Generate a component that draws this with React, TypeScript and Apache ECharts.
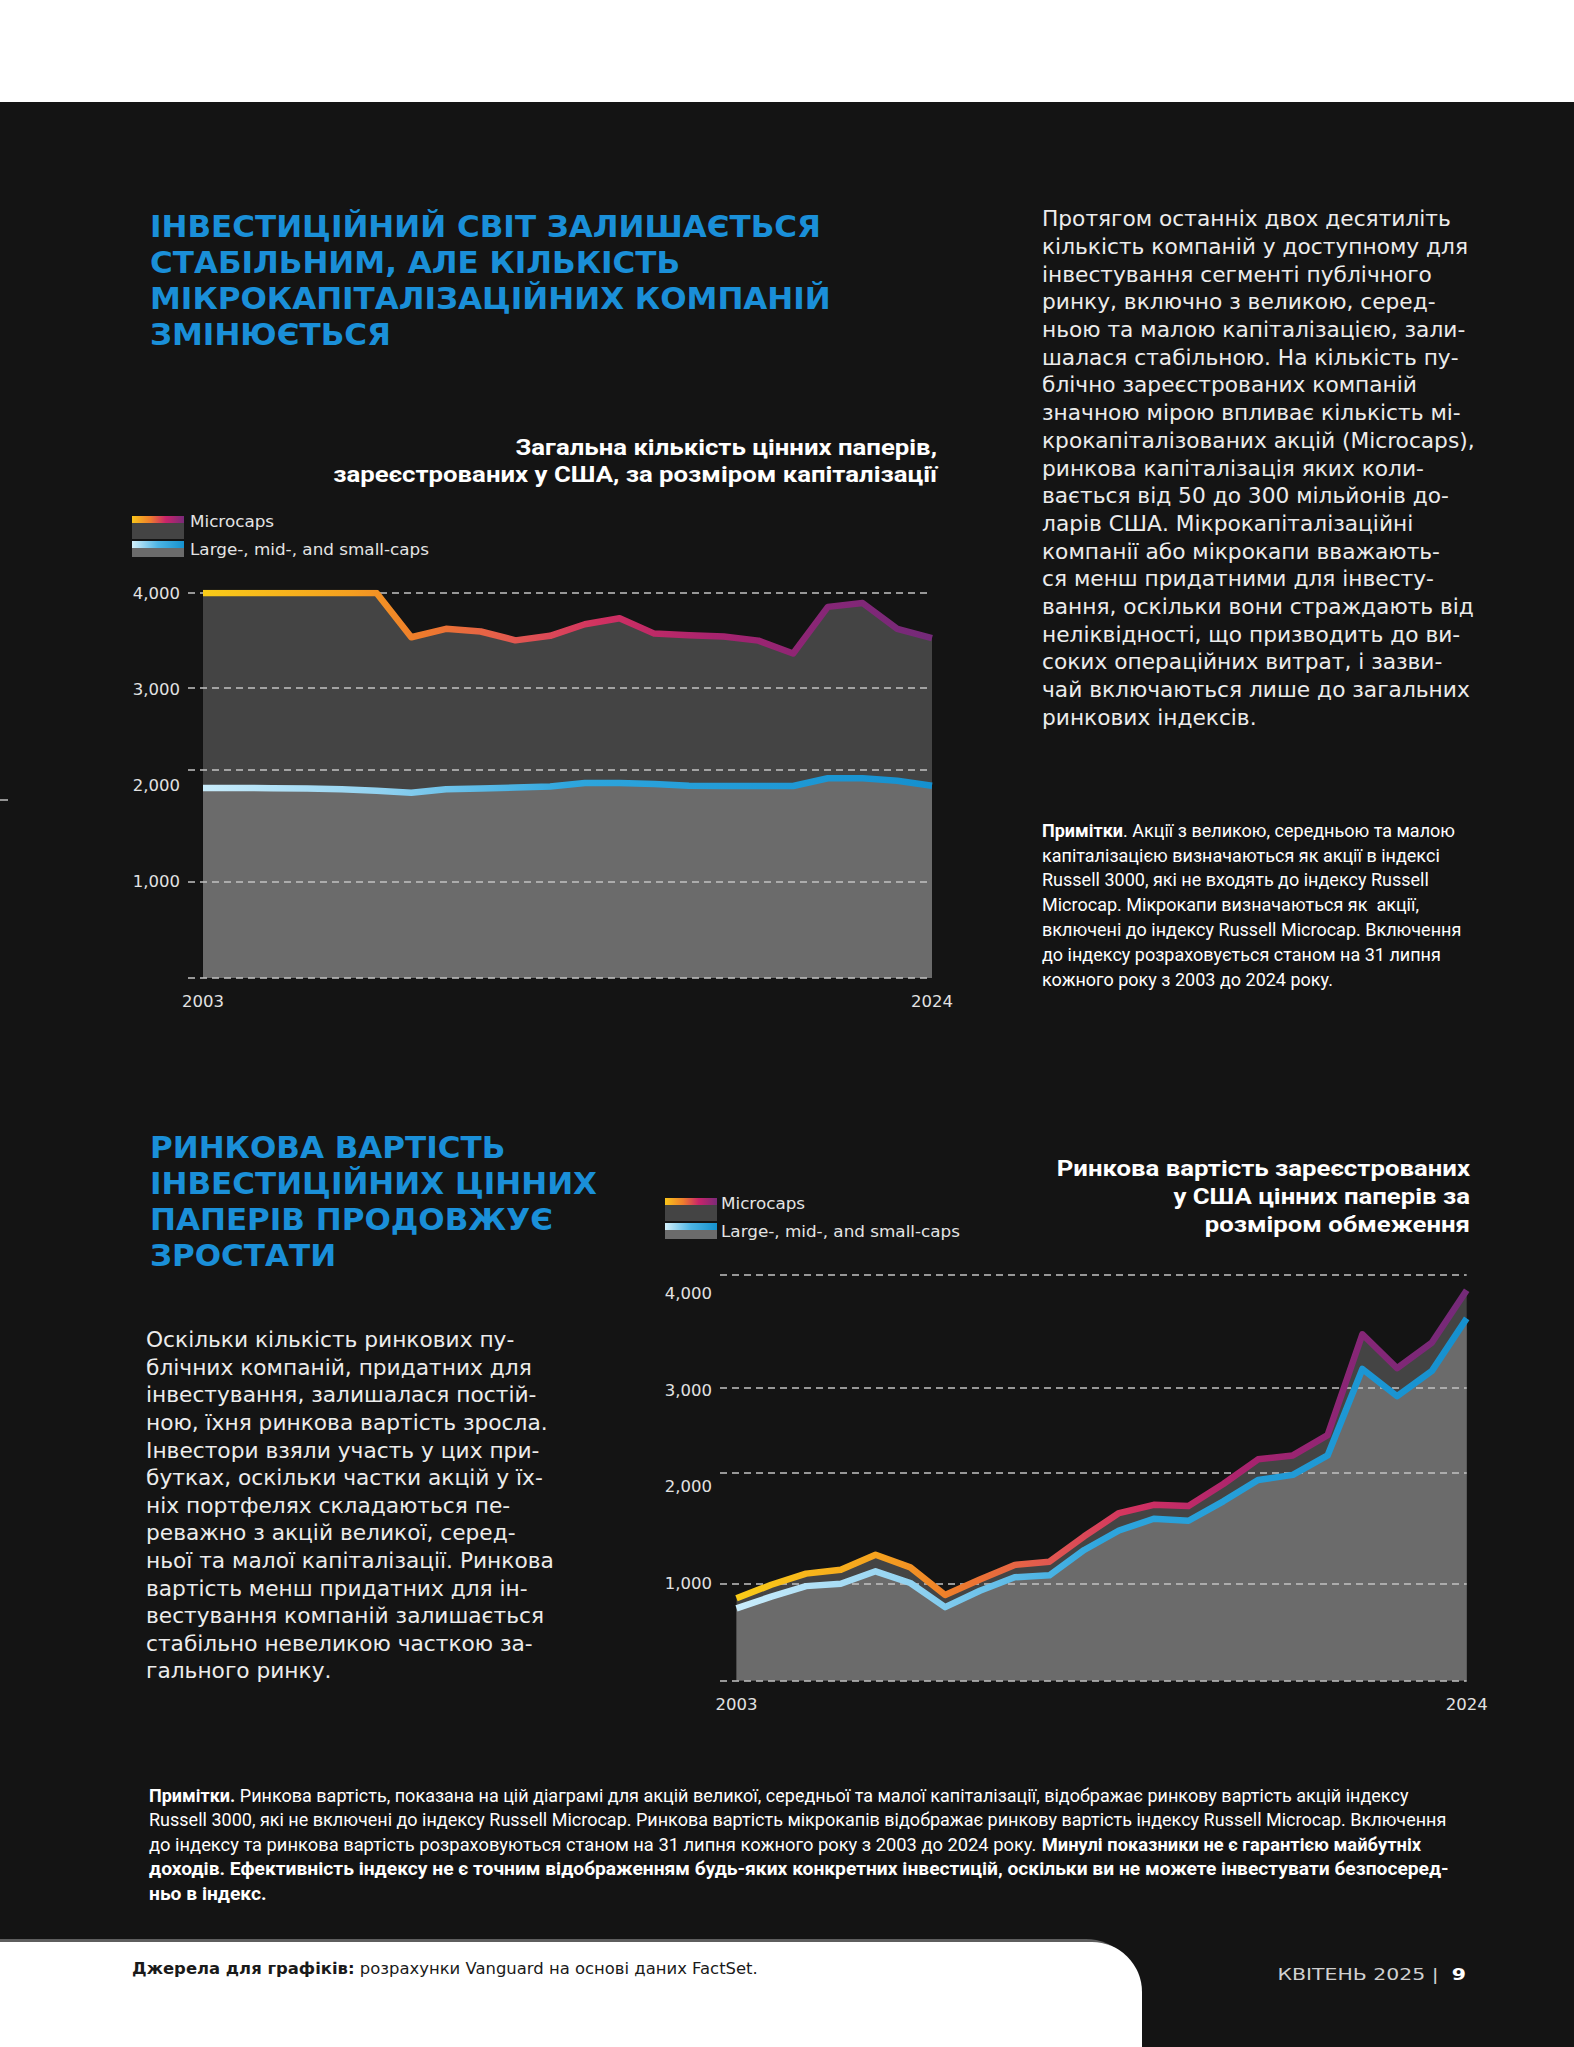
import React, { useEffect, useRef } from "react";
import * as echarts from "echarts";

// ---------- DATA ----------
const years = [2003, 2004, 2005, 2006, 2007, 2008, 2009, 2010, 2011, 2012, 2013, 2014, 2015, 2016, 2017, 2018, 2019, 2020, 2021, 2022, 2023, 2024];

// Chart 1: number of securities (large/mid/small caps and all incl. microcaps, as stacked)
const countLarge = [1975, 1975, 1972, 1968, 1960, 1945, 1925, 1962, 1970, 1978, 1990, 2025, 2025, 2015, 1998, 1995, 1995, 1995, 2075, 2075, 2050, 1998];
const countAll = [4000, 4000, 4000, 4000, 4000, 4000, 3540, 3628, 3600, 3508, 3555, 3675, 3738, 3578, 3562, 3548, 3505, 3372, 3856, 3896, 3628, 3530];
const countGridLines = [0, 1000, 2160, 3020, 4000];
const countTicks = [1000, 2000, 3000, 4000];

// Chart 2: market value (large/mid/small caps and all incl. microcaps, as stacked)
const valueLarge = [747, 867, 976, 1000, 1129, 1008, 759, 928, 1068, 1088, 1349, 1550, 1671, 1651, 1851, 2072, 2124, 2325, 3217, 2936, 3197, 3739];
const valueAll = [850, 990, 1105, 1145, 1300, 1170, 885, 1045, 1195, 1228, 1490, 1730, 1815, 1803, 2030, 2285, 2325, 2534, 3575, 3225, 3490, 4030];
const valueGridLines = [0, 1000, 2145, 3020, 4190];
const valueTicks = [1000, 2000, 3000, 4000];

const xTickLabels = [2003, 2024];
const legendNames = ["Microcaps", "Large-, mid-, and small-caps"];

// ---------- TEXT ----------
const title1 = ["ІНВЕСТИЦІЙНИЙ СВІТ ЗАЛИШАЄТЬСЯ", "СТАБІЛЬНИМ, АЛЕ КІЛЬКІСТЬ", "МІКРОКАПІТАЛІЗАЦІЙНИХ КОМПАНІЙ", "ЗМІНЮЄТЬСЯ"];
const title2 = ["РИНКОВА ВАРТІСТЬ", "ІНВЕСТИЦІЙНИХ ЦІННИХ", "ПАПЕРІВ ПРОДОВЖУЄ", "ЗРОСТАТИ"];
const chartTitle1 = ["Загальна кількість цінних паперів,", "зареєстрованих у США, за розміром капіталізації"];
const chartTitle2 = ["Ринкова вартість зареєстрованих", "у США цінних паперів за", "розміром обмеження"];
const para1 = [
  "Протягом останніх двох десятиліть",
  "кількість компаній у доступному для",
  "інвестування сегменті публічного",
  "ринку, включно з великою, серед-",
  "ньою та малою капіталізацією, зали-",
  "шалася стабільною. На кількість пу-",
  "блічно зареєстрованих компаній",
  "значною мірою впливає кількість мі-",
  "крокапіталізованих акцій (Microcaps),",
  "ринкова капіталізація яких коли-",
  "вається від 50 до 300 мільйонів до-",
  "ларів США. Мікрокапіталізаційні",
  "компанії або мікрокапи вважають-",
  "ся менш придатними для інвесту-",
  "вання, оскільки вони страждають від",
  "неліквідності, що призводить до ви-",
  "соких операційних витрат, і зазви-",
  "чай включаються лише до загальних",
  "ринкових індексів.",
];
const notes1 = [
  "{b|Примітки}. Акції з великою, середньою та малою",
  "капіталізацією визначаються як акції в індексі",
  "Russell 3000, які не входять до індексу Russell",
  "Microcap. Мікрокапи визначаються як  акції,",
  "включені до індексу Russell Microcap. Включення",
  "до індексу розраховується станом на 31 липня",
  "кожного року з 2003 до 2024 року.",
];
const para2 = [
  "Оскільки кількість ринкових пу-",
  "блічних компаній, придатних для",
  "інвестування, залишалася постій-",
  "ною, їхня ринкова вартість зросла.",
  "Інвестори взяли участь у цих при-",
  "бутках, оскільки частки акцій у їх-",
  "ніх портфелях складаються пе-",
  "реважно з акцій великої, серед-",
  "ньої та малої капіталізації. Ринкова",
  "вартість менш придатних для ін-",
  "вестування компаній залишається",
  "стабільно невеликою часткою за-",
  "гального ринку.",
];
const notes2 = [
  "{b|Примітки.} Ринкова вартість, показана на цій діаграмі для акцій великої, середньої та малої капіталізації, відображає ринкову вартість акцій індексу",
  "Russell 3000, які не включені до індексу Russell Microcap. Ринкова вартість мікрокапів відображає ринкову вартість індексу Russell Microcap. Включення",
  "до індексу та ринкова вартість розраховуються станом на 31 липня кожного року з 2003 до 2024 року. {b|Минулі показники не є гарантією майбутніх}",
  "{b|доходів. Ефективність індексу не є точним відображенням будь-яких конкретних інвестицій, оскільки ви не можете інвестувати безпосеред-}",
  "{b|ньо в індекс.}",
];
const footerSource = "{b|Джерела для графіків:} розрахунки Vanguard на основі даних FactSet.";
const footerPage = "КВІТЕНЬ 2025 |  {b|9}";

// ---------- STYLE ----------
const BG = "#141414";
const BLUE_TITLE = "#1a8fd8";
const F_WIDE = '"DejaVu Sans", "Noto Sans", sans-serif';
const F_COND = 'Roboto, "Noto Sans", sans-serif';
const AREA_LARGE = "#6b6b6b";
const AREA_MICRO = "#444444";

const warmStops = [
  { offset: 0, color: "#f9cc18" },
  { offset: 0.2, color: "#f5a01f" },
  { offset: 0.3, color: "#ee7b2c" },
  { offset: 0.42, color: "#e35a4f" },
  { offset: 0.55, color: "#d03062" },
  { offset: 0.7, color: "#a8236e" },
  { offset: 0.85, color: "#872676" },
  { offset: 1, color: "#742a79" },
];
const blueStops = [
  { offset: 0, color: "#c9ecfb" },
  { offset: 0.25, color: "#8fd1f0" },
  { offset: 0.5, color: "#2ea6de" },
  { offset: 1, color: "#1590cf" },
];
const hGrad = (stops: any[]) => ({ type: "linear", x: 0, y: 0, x2: 1, y2: 0, colorStops: stops });

type TO = { size: number; color: string; family: string; weight?: string; align?: string; sx?: number | number[]; rich?: any };
function textLines(x: number, baseline0: number, lh: number, lines: string[], o: TO) {
  return lines.map((t, i) => ({
    type: "text",
    x,
    y: baseline0 + i * lh - 0.345 * o.size,
    scaleX: Array.isArray(o.sx) ? o.sx[i] : o.sx ?? 1,
    silent: true,
    style: {
      text: t,
      fill: o.color,
      fontSize: o.size,
      fontFamily: o.family,
      fontWeight: o.weight ?? "normal",
      align: o.align ?? "left",
      verticalAlign: "middle",
      rich: o.rich,
    },
  }));
}

function legendGraphics(x: number, y: number, tx: number) {
  return [
    { type: "rect", shape: { x, y, width: 52, height: 7 }, style: { fill: hGrad([{ offset: 0, color: "#f9c51a" }, { offset: 0.35, color: "#ef7d2d" }, { offset: 0.65, color: "#c9246a" }, { offset: 1, color: "#7a2a79" }]) } },
    { type: "rect", shape: { x, y: y + 7, width: 52, height: 16 }, style: { fill: AREA_MICRO } },
    { type: "rect", shape: { x, y: y + 25, width: 52, height: 7 }, style: { fill: hGrad([{ offset: 0, color: "#d4f0fb" }, { offset: 0.5, color: "#4db5e4" }, { offset: 1, color: "#1592cf" }]) } },
    { type: "rect", shape: { x, y: y + 32, width: 52, height: 9 }, style: { fill: AREA_LARGE } },
    ...textLines(tx, y + 11, 28, legendNames, { size: 16, sx: 1.05, color: "#e4e4e4", family: F_WIDE }),
  ];
}

function chartSeries(idx: number, large: number[], all: number[], gridVals: number[]) {
  const pairs = (arr: number[]) => years.map((y, i) => [y, arr[i]]);
  const base = { type: "line", xAxisIndex: idx, yAxisIndex: idx, symbol: "none", silent: true, animation: false };
  return [
    {
      ...base,
      name: legendNames[0] + " area " + idx,
      data: pairs(all),
      lineStyle: { width: 0, opacity: 0 },
      areaStyle: { color: AREA_MICRO, opacity: 1 },
      z: 1,
    },
    {
      ...base,
      name: legendNames[1] + " area " + idx,
      data: pairs(large),
      lineStyle: { width: 0, opacity: 0 },
      areaStyle: { color: AREA_LARGE, opacity: 1 },
      z: 1,
      markLine: {
        silent: true,
        z: 2,
        symbol: ["none", "none"],
        label: { show: false },
        lineStyle: { color: "#c2c2c2", width: 1.6, type: [7, 5] },
        data: gridVals.map((v) => ({ yAxis: v })),
        animation: false,
      },
    },
    {
      ...base,
      name: legendNames[0] + " " + idx,
      data: pairs(all),
      lineStyle: { width: 6.5, color: hGrad(warmStops), join: "round" },
      z: 3,
    },
    {
      ...base,
      name: legendNames[1] + " " + idx,
      data: pairs(large),
      lineStyle: { width: 6.5, color: hGrad(blueStops), join: "round" },
      z: 4,
    },
  ];
}

const axisLabelStyle = { color: "#e2e2e2", fontSize: 16.5, fontFamily: F_WIDE };
const fmt = (v: number) => v.toLocaleString("en-US");

function xAxisCfg(idx: number, min: number) {
  return {
    type: "value", gridIndex: idx, min, max: 2024,
    axisLine: { show: false }, axisTick: { show: false }, splitLine: { show: false },
    axisLabel: { ...axisLabelStyle, margin: 15, customValues: xTickLabels, formatter: (v: number) => String(v) },
  };
}
function yAxisCfg(idx: number, max: number, ticks: number[]) {
  return {
    type: "value", gridIndex: idx, min: 0, max,
    axisLine: { show: false }, axisTick: { show: false }, splitLine: { show: false },
    axisLabel: { ...axisLabelStyle, margin: 8, customValues: ticks, formatter: fmt },
  };
}

function buildOption() {
  const boldRich = (size: number, family: string, fill: string) => ({ b: { fontWeight: "bold", fontSize: size, fontFamily: family, fill } });
  const graphics: any[] = [
    { type: "rect", z: -10, shape: { x: 0, y: 0, width: 1574, height: 102 }, style: { fill: "#ffffff" } },
    { type: "line", shape: { x1: 0, y1: 800, x2: 8, y2: 800 }, style: { stroke: "#bdbdbd", lineWidth: 1.5 } },
    { type: "rect", z: -10, shape: { x: -80, y: 1939, width: 1218, height: 160, r: 52 }, style: { fill: "#5e5e5e" } },
    { type: "rect", z: -9, shape: { x: -80, y: 1942, width: 1222, height: 160, r: 50 }, style: { fill: "#ffffff" } },
    ...textLines(150, 237, 35.8, title1, { size: 31, color: BLUE_TITLE, family: F_WIDE, weight: "bold" }),
    ...textLines(150, 1158, 35.8, title2, { size: 31, color: BLUE_TITLE, family: F_WIDE, weight: "bold" }),
    ...textLines(1042, 226, 27.7, para1, { size: 20.5, sx: 1.06, color: "#ececec", family: F_WIDE }),
    ...textLines(146, 1347, 27.6, para2, { size: 20.5, sx: 1.06, color: "#ececec", family: F_WIDE }),
    ...textLines(1042, 837, 24.8, notes1, { size: 17.5, sx: 1.03, color: "#ffffff", family: F_COND, rich: boldRich(17.5, F_COND, "#ffffff") }),
    ...textLines(149, 1802, 24.4, notes2, { size: 17.5, sx: [1.03, 1.03, 1.048, 1.1, 1.1], color: "#ffffff", family: F_COND, rich: boldRich(17.5, F_COND, "#ffffff") }),
    ...textLines(937, 455, 27, chartTitle1, { size: 23, sx: 1.12, color: "#ffffff", family: F_COND, weight: "bold", align: "right" }),
    ...textLines(1470, 1176, 28.2, chartTitle2, { size: 23, sx: 1.12, color: "#ffffff", family: F_COND, weight: "bold", align: "right" }),
    ...legendGraphics(132, 516, 190),
    ...legendGraphics(665, 1198, 721),
    ...textLines(132, 1974, 20, [footerSource], { size: 15.5, sx: 1.06, color: "#1a1a1a", family: F_WIDE, rich: boldRich(15.5, F_WIDE, "#1a1a1a") }),
    ...textLines(1466, 1980, 20, [footerPage], { size: 15.5, sx: 1.32, color: "#d0d0d0", family: F_WIDE, align: "right", rich: boldRich(15.5, F_WIDE, "#ffffff") }),
  ];

  return {
    animation: false,
    backgroundColor: BG,
    grid: [
      { left: 188, top: 593, width: 744, height: 385 },
      { left: 720, top: 1274.7, width: 746.7, height: 406 },
    ],
    xAxis: [xAxisCfg(0, 2002.568), xAxisCfg(1, 2002.5255)],
    yAxis: [yAxisCfg(0, 4000, countTicks), yAxisCfg(1, 4190, valueTicks)],
    series: [...chartSeries(0, countLarge, countAll, countGridLines), ...chartSeries(1, valueLarge, valueAll, valueGridLines)],
    graphic: { elements: graphics },
  };
}

export default function App() {
  const ref = useRef<HTMLDivElement>(null);
  useEffect(() => {
    document.body.style.margin = "0";
    document.body.style.background = BG;
    const chart = echarts.init(ref.current as HTMLDivElement, null, { renderer: "svg" });
    chart.setOption(buildOption() as any);
    return () => chart.dispose();
  }, []);
  return <div ref={ref} style={{ width: 1574, height: 2047 }} />;
}
